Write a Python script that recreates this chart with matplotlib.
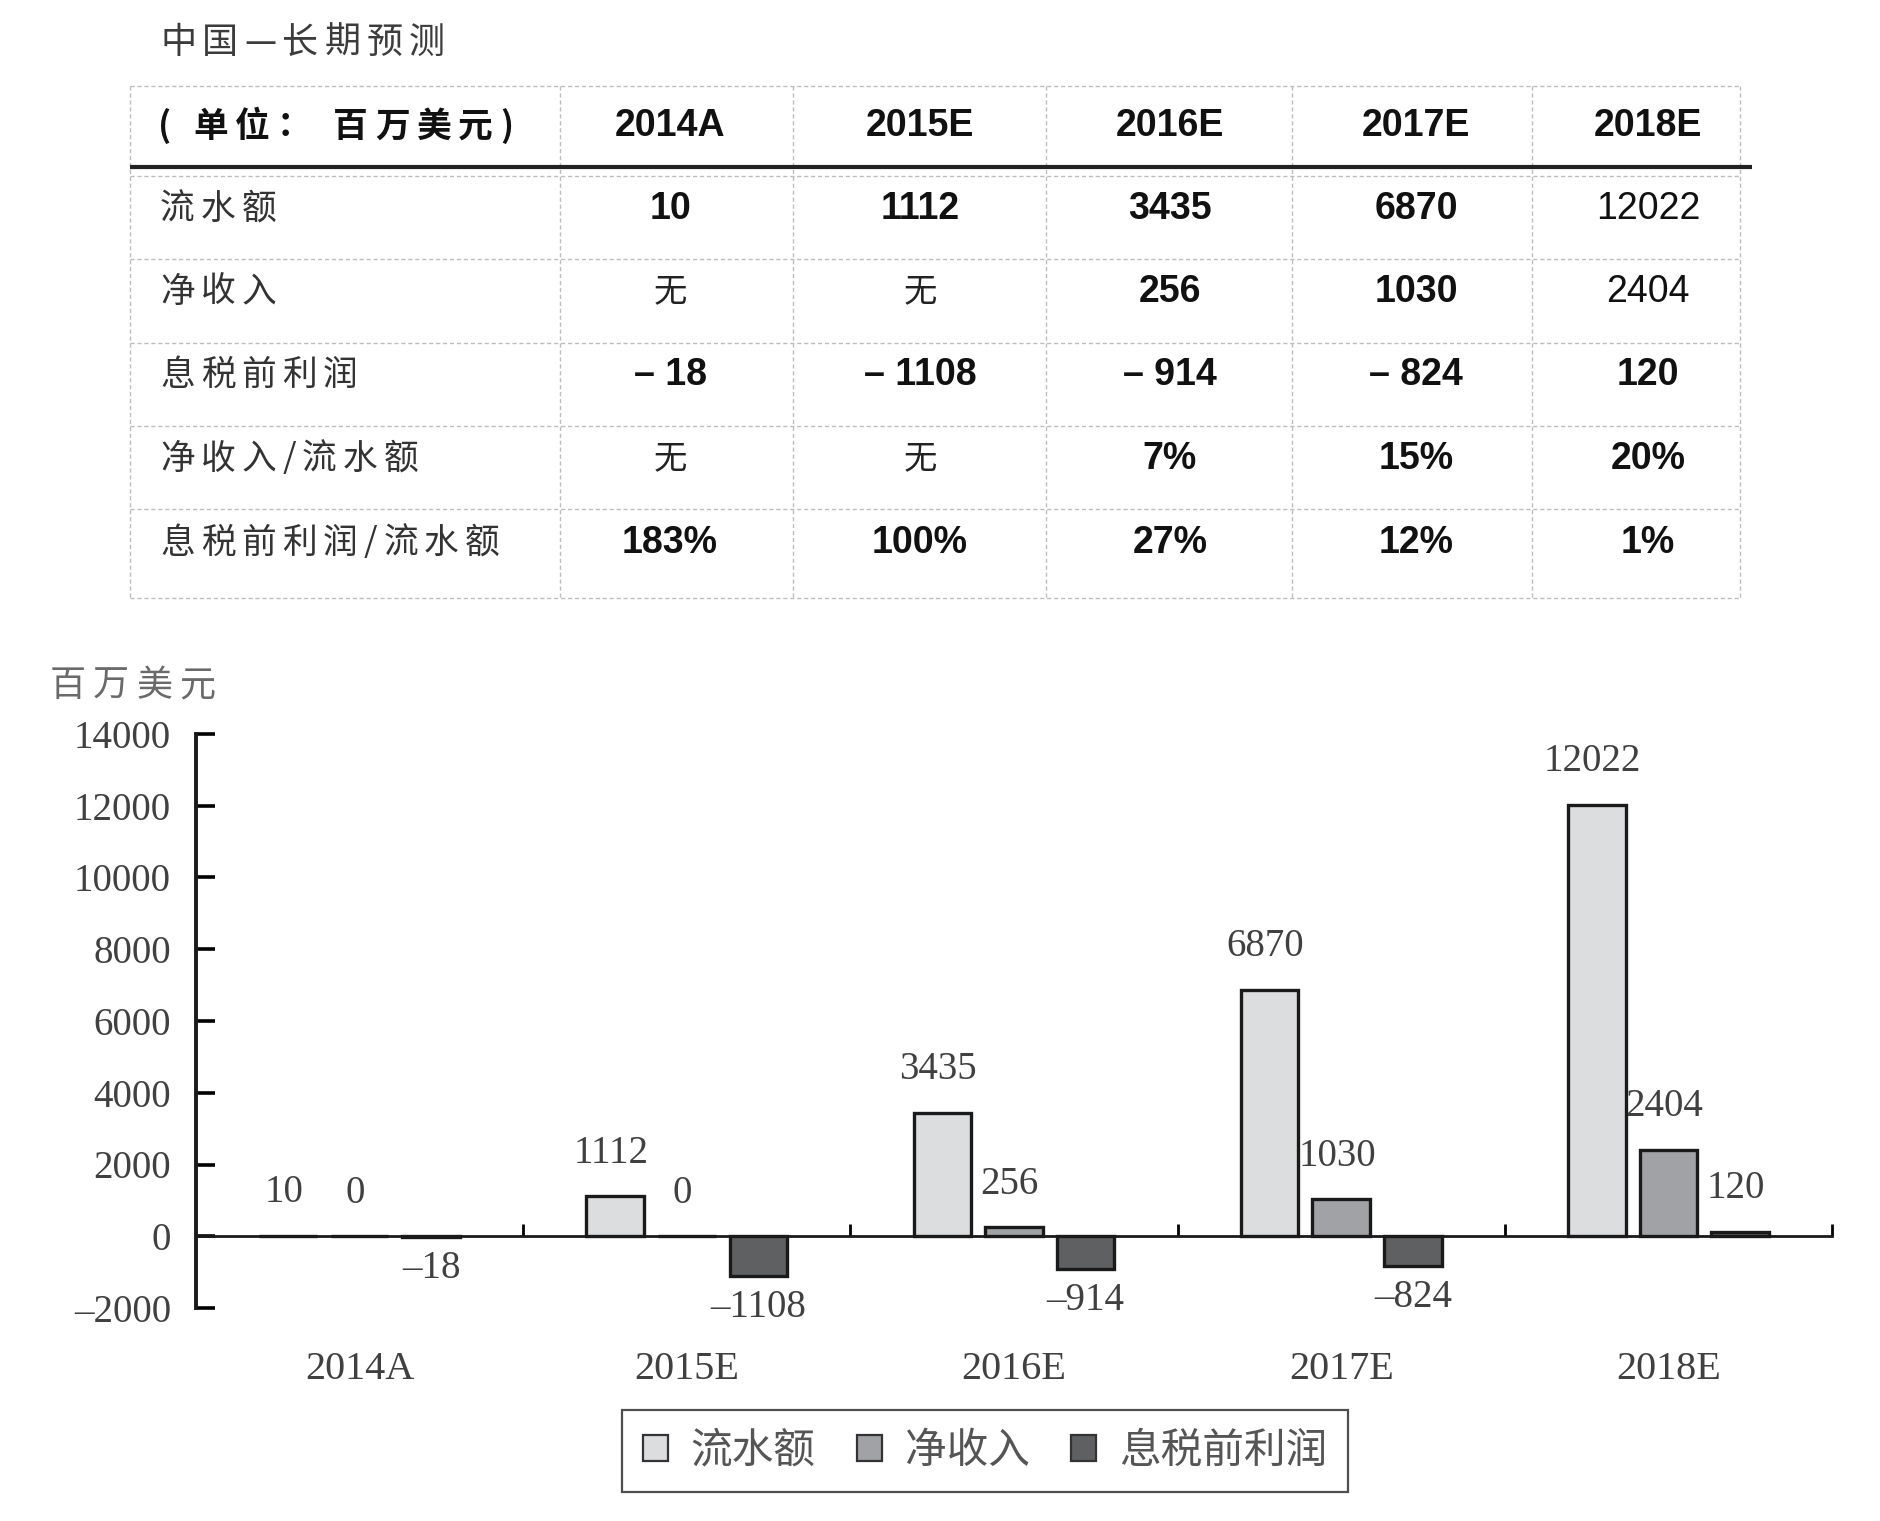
import matplotlib
matplotlib.use("Agg")
import matplotlib.pyplot as plt
import matplotlib.transforms as mtransforms
from matplotlib.patches import Patch
from matplotlib.ticker import FuncFormatter
import numpy as np

# ---- data ----
years = ["2014A", "2015E", "2016E", "2017E", "2018E"]
series_names = ["流水额", "净收入", "息税前利润"]
liushui = [10, 1112, 3435, 6870, 12022]       # 流水额
jingshouru = [0, 0, 256, 1030, 2404]          # 净收入 (chart)
xishui = [-18, -1108, -914, -824, 120]        # 息税前利润

# table text
title = "中国—长期预测"
table_head = "( 单位： 百万美元)"
row_names = ["流水额", "净收入", "息税前利润", "净收入/流水额", "息税前利润/流水额"]
net_txt = ["无", "无", "256", "1030", "2404"]
ratio_net = ["无", "无", "7%", "15%", "20%"]
ratio_ebit = ["183%", "100%", "27%", "12%", "1%"]

yticks = [-2000, 0, 2000, 4000, 6000, 8000, 10000, 12000, 14000]

W, H = 1880, 1521
plt.rcParams['font.family'] = ['Liberation Serif', 'Noto Sans CJK SC']
plt.rcParams['axes.unicode_minus'] = False

fig = plt.figure(figsize=(W / 100, H / 100), dpi=100)
renderer = fig.canvas.get_renderer()


def spaced(ax, x, y, s, gap, **kw):
    # draw text char by char with extra tracking (pixel coords)
    for ch in s:
        t = ax.text(x, y, ch, ha='left', va='center', **kw)
        x += t.get_window_extent(renderer).width + gap


# ---- table (drawn in pixel coords on an overlay axes) ----
tab = fig.add_axes([0, 0, 1, 1])
tab.set_xlim(0, W)
tab.set_ylim(H, 0)
tab.axis('off')
tab.patch.set_visible(False)

col_x = [130, 560, 793, 1046, 1292, 1532, 1740]
row_y = [86, 176, 259, 343, 426, 509, 598]
dash = dict(color='#bdbdbd', lw=1.0, linestyle=(0, (3, 2)))
for y in row_y:
    tab.plot([col_x[0], col_x[-1]], [y, y], **dash)
for x in col_x:
    tab.plot([x, x], [row_y[0], row_y[-1]], **dash)
tab.plot([col_x[0], 1752], [167, 167], color='#222222', lw=3.0, solid_capstyle='butt')

cjk = ['Noto Sans CJK SC']
sans = ['Liberation Sans', 'Noto Sans CJK SC']

spaced(tab, 160, 43, title, 6, fontsize=26, color='#3c3c3c', family=cjk)

col_cx = [670, 920, 1170, 1416, 1648]
row_cy = [209, 292, 375, 459, 543]
spaced(tab, 158, 126, table_head, 7, fontsize=25, color='#111111', family=cjk,
       fontweight='bold')
for cx, yr in zip(col_cx, years):
    tab.text(cx, 126, yr, fontsize=27, fontweight='bold', ha='center', va='center',
             family=sans, color='#111111')

ebit_txt = [("– " + str(abs(v))) if v < 0 else str(v) for v in xishui]
table_rows = [[str(v) for v in liushui], net_txt, ebit_txt, ratio_net, ratio_ebit]
for r, (name, cells) in enumerate(zip(row_names, table_rows)):
    spaced(tab, 160, row_cy[r], name, 6, fontsize=25, color='#333333', family=cjk)
    for c, s in enumerate(cells):
        if s == "无":
            tab.text(col_cx[c], row_cy[r], s, fontsize=24, ha='center', va='center',
                     family=cjk, color='#222222')
            continue
        wt = 'normal' if (c == 4 and r in (0, 1)) else 'bold'
        tab.text(col_cx[c], row_cy[r], s, fontsize=27, fontweight=wt, ha='center',
                 va='center', family=sans, color='#111111')

# ---- bar chart ----
ax = fig.add_axes([196 / W, 1 - 1308 / H, (1832 - 196) / W, (1308 - 734) / H])
x = np.arange(len(years))
bw = 0.176
off = 0.219
colors = ['#dcdddf', '#a1a2a6', '#5f6062']
all_series = [liushui, jingshouru, xishui]
for i, (vals, col) in enumerate(zip(all_series, colors)):
    xs = x + (i - 1) * off
    ax.bar(xs, vals, width=bw, color=col, edgecolor='#1a1a1a', linewidth=2.4, zorder=3)
    for xx, v in zip(xs, vals):
        lab = str(v).replace('-', '–')
        if v >= 0:
            ax.annotate(lab, (xx, v), xytext=(-3, 31), textcoords='offset points',
                        ha='center', va='center', fontsize=28, color='#404040')
        else:
            ax.annotate(lab, (xx, v), xytext=(0, -23), textcoords='offset points',
                        ha='center', va='center', fontsize=28, color='#404040')

ax.set_xlim(-0.5, len(years) - 0.5)
ax.set_ylim(-2000, 14000)
ax.set_yticks(yticks)
ax.yaxis.set_major_formatter(FuncFormatter(lambda v, p: str(int(v)).replace('-', '–')))
ax.tick_params(axis='y', direction='in', length=14, width=2.6, labelsize=28,
               labelcolor='#404040', pad=18)
ax.set_xticks(list(x + 0.5))
ax.set_xticklabels([])
ax.tick_params(axis='x', direction='in', length=9, width=2.0)

for s in ['top', 'right']:
    ax.spines[s].set_visible(False)
ax.spines['left'].set_linewidth(2.8)
ax.spines['left'].set_color('#1a1a1a')
ax.spines['bottom'].set_position(('data', 0))
ax.spines['bottom'].set_linewidth(2.0)
ax.spines['bottom'].set_color('#1a1a1a')
ax.patch.set_visible(False)

trans = mtransforms.blended_transform_factory(ax.transData, ax.transAxes)
for xx, yr in zip(x, years):
    ax.text(xx, -0.108, yr, transform=trans, ha='center', va='center',
            fontsize=29, color='#404040')

spaced(tab, 50, 686, "百万美元", 7, fontsize=26, color='#6a6a6a', family=cjk)

handles = [Patch(facecolor=c, edgecolor='#333333', linewidth=1.6) for c in colors]
leg = fig.legend(handles, series_names, loc='center', bbox_to_anchor=(985 / W, 1 - 1451 / H),
                 ncol=3, frameon=True, fancybox=False, handlelength=0.6,
                 handleheight=0.6, handletextpad=0.55, columnspacing=1.0, borderpad=0.5,
                 prop={'family': cjk, 'size': 30})
leg.get_frame().set_edgecolor('#222222')
leg.get_frame().set_linewidth(1.6)
for t in leg.get_texts():
    t.set_color('#555555')

fig.savefig("out.png", dpi=100)
